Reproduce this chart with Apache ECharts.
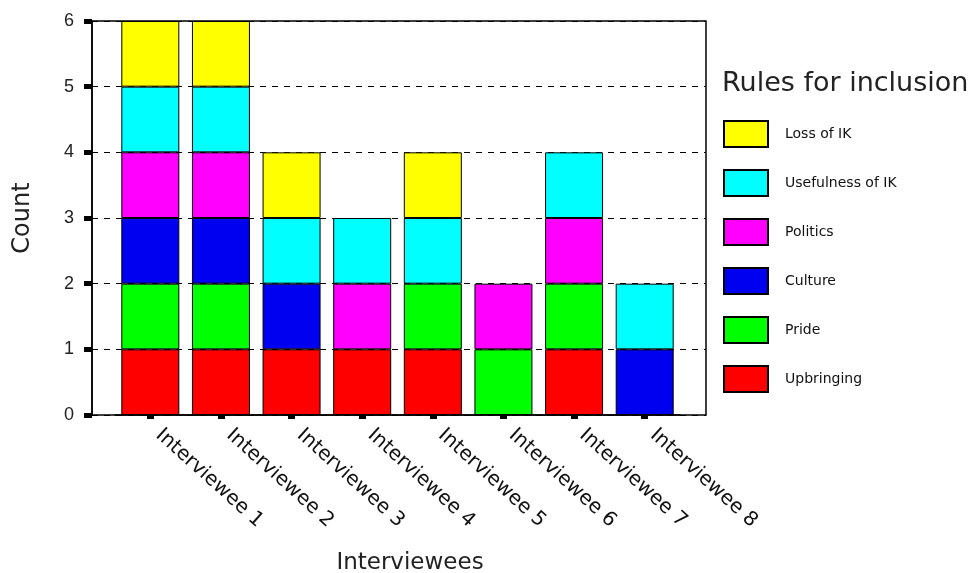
<!DOCTYPE html>
<html>
<head>
<meta charset="utf-8">
<script src="https://cdn.jsdelivr.net/npm/echarts@6/dist/echarts.min.js"></script>
<style>
html,body{margin:0;padding:0;background:#fff;}
#chart{width:973px;height:573px;}
</style>
</head>
<body>
<div id="chart"></div>
<script>
var categories = ['Interviewee 1','Interviewee 2','Interviewee 3','Interviewee 4','Interviewee 5','Interviewee 6','Interviewee 7','Interviewee 8'];
var upbringing = [1,1,1,1,1,0,1,0];
var pride      = [1,1,0,0,1,1,1,0];
var culture    = [1,1,1,0,0,0,0,1];
var politics   = [1,1,0,1,0,1,1,0];
var usefulness = [1,1,1,1,1,0,1,1];
var lossOfIK   = [1,1,1,0,1,0,0,0];
var yTicks = [0,1,2,3,4,5,6];
var legendTitle = 'Rules for inclusion';
var legendOrder = ['Loss of IK','Usefulness of IK','Politics','Culture','Pride','Upbringing'];

var seriesDefs = [
  {name:'Upbringing', data:upbringing, color:'#FF0000'},
  {name:'Pride', data:pride, color:'#00FF00'},
  {name:'Culture', data:culture, color:'#0000F0'},
  {name:'Politics', data:politics, color:'#FF00FF'},
  {name:'Usefulness of IK', data:usefulness, color:'#00FFFF'},
  {name:'Loss of IK', data:lossOfIK, color:'#FFFF00'}
];

var chart = echarts.init(document.getElementById('chart'), null, {renderer:'canvas'});
var option = {
  backgroundColor:'#fff',
  animation:false,
  title:{
    text:legendTitle, left:717, top:65,
    textStyle:{fontFamily:'DejaVu Sans', fontSize:27, fontWeight:'normal', color:'#222'}
  },
  legend:{
    orient:'vertical', left:718, top:115,
    data:legendOrder, icon:'rect',
    itemWidth:44, itemHeight:26, itemGap:21,
    textStyle:{fontFamily:'DejaVu Sans', fontSize:14, color:'#111', padding:[0,0,0,12]}
  },
  grid:[
    {left:92, top:21, width:614, height:394, show:true, borderColor:'#000', borderWidth:1.5, backgroundColor:'transparent', containLabel:false, outerBoundsMode:'none'},
    {left:115, top:21, width:565, height:394, containLabel:false, outerBoundsMode:'none'}
  ],
  xAxis:[
    {gridIndex:0, type:'value', min:0, max:1, show:false},
    {gridIndex:1, type:'category', data:categories,
     axisLine:{show:true, lineStyle:{color:'#000', width:1.5}},
     axisTick:{show:true, alignWithLabel:true, length:4, lineStyle:{color:'#000', width:7}},
     axisLabel:{rotate:-42, margin:10, padding:[0,0,0,11], fontFamily:'DejaVu Sans', fontSize:20, color:'#111', interval:0},
     name:'Interviewees', nameLocation:'middle', nameGap:137,
     nameTextStyle:{fontFamily:'DejaVu Sans', fontSize:23, color:'#222', padding:[0,0,0,25]}
    }
  ],
  yAxis:[
    {gridIndex:0, type:'value', min:0, max:6, interval:1,
     axisLine:{show:true, lineStyle:{color:'#000', width:1.5}},
     axisTick:{show:true, length:8, lineStyle:{color:'#000', width:5}},
     axisLabel:{margin:18, fontFamily:'Liberation Sans', fontSize:18, color:'#222',
       formatter:function(v){return yTicks.indexOf(v) >= 0 ? String(v) : '';}},
     splitLine:{show:true, lineStyle:{color:'#000', width:1, type:[6,6]}},
     name:'Count', nameLocation:'middle', nameGap:57,
     nameTextStyle:{fontFamily:'DejaVu Sans', fontSize:24, color:'#222'}
    },
    {gridIndex:1, type:'value', min:0, max:6, interval:1, show:false, splitLine:{show:false}}
  ],
  series: seriesDefs.map(function(s){
    return {
      name:s.name, type:'bar', stack:'total', xAxisIndex:1, yAxisIndex:1,
      barWidth:58,
      itemStyle:{color:s.color, borderColor:'#000', borderWidth:1},
      data:s.data.map(function(v){return v === 0 ? '-' : v;})
    };
  })
};
chart.setOption(option);
</script>
</body>
</html>
